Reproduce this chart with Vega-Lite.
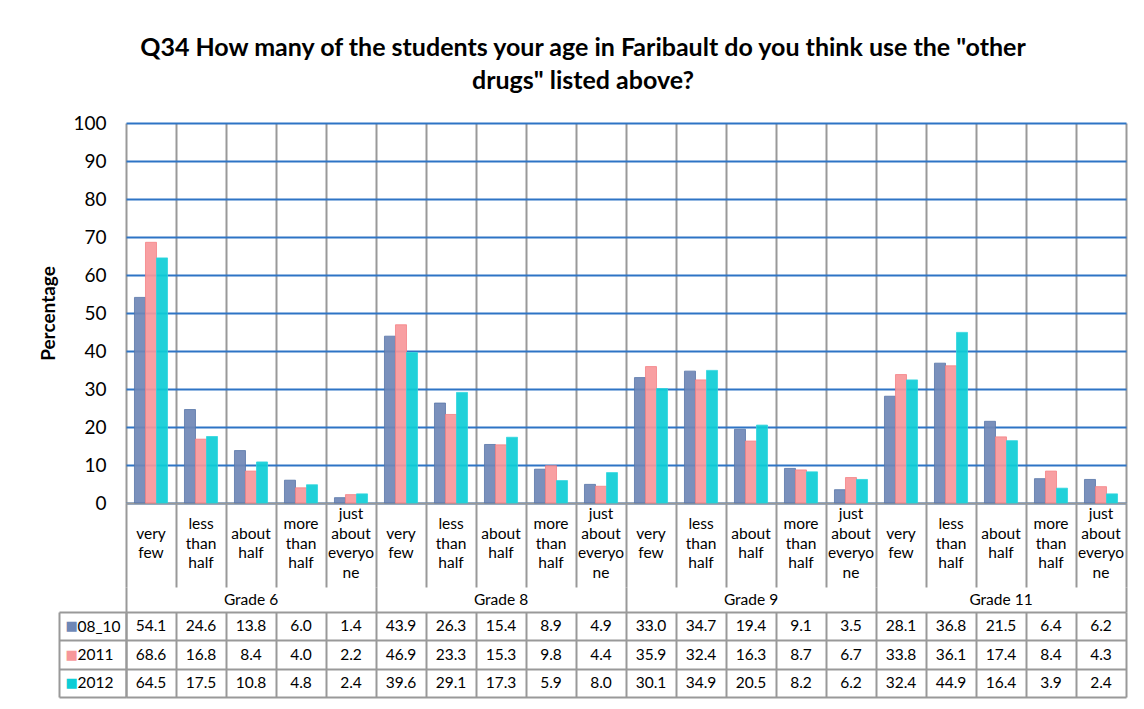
{
  "$schema": "https://vega.github.io/schema/vega-lite/v6.json",
  "padding": {"left": 39, "top": 36, "right": 12, "bottom": 10},
  "background": "white",
  "title": {
    "text": ["Q34 How many of the students your age in Faribault do you think use the \"other", "drugs\" listed above?"],
    "font": "Lato", "fontSize": 25, "fontWeight": "bold", "lineHeight": 33,
    "anchor": "middle", "frame": "bounds", "offset": 20, "color": "black"
  },
  "data": {"values": [
    {"grade": "Grade 6", "cat": "very few", "series": "08_10", "value": 54.1},
    {"grade": "Grade 6", "cat": "very few", "series": "2011", "value": 68.6},
    {"grade": "Grade 6", "cat": "very few", "series": "2012", "value": 64.5},
    {"grade": "Grade 6", "cat": "less than half", "series": "08_10", "value": 24.6},
    {"grade": "Grade 6", "cat": "less than half", "series": "2011", "value": 16.8},
    {"grade": "Grade 6", "cat": "less than half", "series": "2012", "value": 17.5},
    {"grade": "Grade 6", "cat": "about half", "series": "08_10", "value": 13.8},
    {"grade": "Grade 6", "cat": "about half", "series": "2011", "value": 8.4},
    {"grade": "Grade 6", "cat": "about half", "series": "2012", "value": 10.8},
    {"grade": "Grade 6", "cat": "more than half", "series": "08_10", "value": 6.0},
    {"grade": "Grade 6", "cat": "more than half", "series": "2011", "value": 4.0},
    {"grade": "Grade 6", "cat": "more than half", "series": "2012", "value": 4.8},
    {"grade": "Grade 6", "cat": "just about everyone", "series": "08_10", "value": 1.4},
    {"grade": "Grade 6", "cat": "just about everyone", "series": "2011", "value": 2.2},
    {"grade": "Grade 6", "cat": "just about everyone", "series": "2012", "value": 2.4},
    {"grade": "Grade 8", "cat": "very few", "series": "08_10", "value": 43.9},
    {"grade": "Grade 8", "cat": "very few", "series": "2011", "value": 46.9},
    {"grade": "Grade 8", "cat": "very few", "series": "2012", "value": 39.6},
    {"grade": "Grade 8", "cat": "less than half", "series": "08_10", "value": 26.3},
    {"grade": "Grade 8", "cat": "less than half", "series": "2011", "value": 23.3},
    {"grade": "Grade 8", "cat": "less than half", "series": "2012", "value": 29.1},
    {"grade": "Grade 8", "cat": "about half", "series": "08_10", "value": 15.4},
    {"grade": "Grade 8", "cat": "about half", "series": "2011", "value": 15.3},
    {"grade": "Grade 8", "cat": "about half", "series": "2012", "value": 17.3},
    {"grade": "Grade 8", "cat": "more than half", "series": "08_10", "value": 8.9},
    {"grade": "Grade 8", "cat": "more than half", "series": "2011", "value": 9.8},
    {"grade": "Grade 8", "cat": "more than half", "series": "2012", "value": 5.9},
    {"grade": "Grade 8", "cat": "just about everyone", "series": "08_10", "value": 4.9},
    {"grade": "Grade 8", "cat": "just about everyone", "series": "2011", "value": 4.4},
    {"grade": "Grade 8", "cat": "just about everyone", "series": "2012", "value": 8.0},
    {"grade": "Grade 9", "cat": "very few", "series": "08_10", "value": 33.0},
    {"grade": "Grade 9", "cat": "very few", "series": "2011", "value": 35.9},
    {"grade": "Grade 9", "cat": "very few", "series": "2012", "value": 30.1},
    {"grade": "Grade 9", "cat": "less than half", "series": "08_10", "value": 34.7},
    {"grade": "Grade 9", "cat": "less than half", "series": "2011", "value": 32.4},
    {"grade": "Grade 9", "cat": "less than half", "series": "2012", "value": 34.9},
    {"grade": "Grade 9", "cat": "about half", "series": "08_10", "value": 19.4},
    {"grade": "Grade 9", "cat": "about half", "series": "2011", "value": 16.3},
    {"grade": "Grade 9", "cat": "about half", "series": "2012", "value": 20.5},
    {"grade": "Grade 9", "cat": "more than half", "series": "08_10", "value": 9.1},
    {"grade": "Grade 9", "cat": "more than half", "series": "2011", "value": 8.7},
    {"grade": "Grade 9", "cat": "more than half", "series": "2012", "value": 8.2},
    {"grade": "Grade 9", "cat": "just about everyone", "series": "08_10", "value": 3.5},
    {"grade": "Grade 9", "cat": "just about everyone", "series": "2011", "value": 6.7},
    {"grade": "Grade 9", "cat": "just about everyone", "series": "2012", "value": 6.2},
    {"grade": "Grade 11", "cat": "very few", "series": "08_10", "value": 28.1},
    {"grade": "Grade 11", "cat": "very few", "series": "2011", "value": 33.8},
    {"grade": "Grade 11", "cat": "very few", "series": "2012", "value": 32.4},
    {"grade": "Grade 11", "cat": "less than half", "series": "08_10", "value": 36.8},
    {"grade": "Grade 11", "cat": "less than half", "series": "2011", "value": 36.1},
    {"grade": "Grade 11", "cat": "less than half", "series": "2012", "value": 44.9},
    {"grade": "Grade 11", "cat": "about half", "series": "08_10", "value": 21.5},
    {"grade": "Grade 11", "cat": "about half", "series": "2011", "value": 17.4},
    {"grade": "Grade 11", "cat": "about half", "series": "2012", "value": 16.4},
    {"grade": "Grade 11", "cat": "more than half", "series": "08_10", "value": 6.4},
    {"grade": "Grade 11", "cat": "more than half", "series": "2011", "value": 8.4},
    {"grade": "Grade 11", "cat": "more than half", "series": "2012", "value": 3.9},
    {"grade": "Grade 11", "cat": "just about everyone", "series": "08_10", "value": 6.2},
    {"grade": "Grade 11", "cat": "just about everyone", "series": "2011", "value": 4.3},
    {"grade": "Grade 11", "cat": "just about everyone", "series": "2012", "value": 2.4}
  ]},
  "transform": [{"calculate": "datum.grade + '|' + datum.cat", "as": "key"}],
  "bounds": "flush",
  "spacing": 0,
  "resolve": {"scale": {"x": "independent", "y": "independent", "color": "shared"}},
  "vconcat": [
    {
      "width": 1000, "height": 380,
      "mark": {"type": "bar", "strokeWidth": 0.8},
      "encoding": {
        "x": {"field": "key", "type": "nominal", "sort": null,
              "scale": {"type": "band", "paddingInner": 0, "paddingOuter": 0},
              "axis": {"title": null, "labels": false, "ticks": false, "domain": true, "domainColor": "#999999", "domainWidth": 2,
                       "grid": true, "gridColor": "#999999", "gridWidth": 2, "tickBand": "extent", "zindex": 0}},
        "xOffset": {"field": "series", "type": "nominal", "scale": {"paddingInner": 0, "paddingOuter": 0.77}},
        "y": {"field": "value", "type": "quantitative",
              "scale": {"domain": [0, 100], "nice": false},
              "axis": {"title": "Percentage", "titleFontSize": 19, "titleFontWeight": "bold", "titlePadding": 14, "titleColor": "black",
                       "values": [0, 10, 20, 30, 40, 50, 60, 70, 80, 90, 100],
                       "labelFontSize": 19, "labelColor": "black", "labelPadding": 20, "ticks": false, "domain": false,
                       "grid": true, "gridColor": "#2e74c5", "gridWidth": 2}},
        "color": {"field": "series", "type": "nominal", "legend": null,
                  "scale": {"domain": ["08_10", "2011", "2012"], "range": ["#6f87b6", "#f7979a", "#0ecdd6"]}},
        "stroke": {"field": "series", "type": "nominal", "legend": null,
                   "scale": {"domain": ["08_10", "2011", "2012"], "range": ["#5876a8", "#f58185", "#2fd6de"]}},
        "fillOpacity": {"field": "series", "type": "nominal", "legend": null,
                        "scale": {"domain": ["08_10", "2011", "2012"], "range": [0.92, 0.92, 1]}}
      }
    },
    {
      "width": 1000, "height": 84,
      "transform": [
        {"filter": "datum.series === '08_10'"},
        {"calculate": "length(split(datum.cat, regexp(' |(?<=everyo)')))", "as": "nlines"}
      ],
      "mark": {"type": "text", "fontSize": 15.5, "lineHeight": 19.5, "baseline": "middle", "color": "black",
               "lineBreak": {"expr": "regexp(' |(?<=everyo)')"}},
      "encoding": {
        "x": {"field": "key", "type": "nominal", "sort": null,
              "scale": {"type": "band", "paddingInner": 0, "paddingOuter": 0},
              "axis": {"title": null, "labels": false, "ticks": false, "domain": false,
                       "grid": true, "gridColor": "#999999", "gridWidth": 2, "tickBand": "extent"}},
        "y": {"field": "nlines", "type": "quantitative", "scale": {"domain": [-3.436, 5.179], "nice": false, "zero": false}, "axis": null},
        "text": {"field": "cat"}
      }
    },
    {
      "width": 1000, "height": 25,
      "transform": [{"filter": "datum.series === '08_10' && datum.cat === 'very few'"}],
      "mark": {"type": "text", "fontSize": 15.5, "baseline": "middle", "color": "black"},
      "encoding": {
        "x": {"field": "grade", "type": "nominal", "sort": null,
              "scale": {"type": "band", "paddingInner": 0, "paddingOuter": 0},
              "axis": {"title": null, "labels": false, "ticks": false, "domain": false,
                       "grid": true, "gridColor": "#999999", "gridWidth": 2, "tickBand": "extent"}},
        "text": {"field": "grade"}
      }
    },
    {
      "width": 1000, "height": 85,
      "resolve": {"axis": {"y": "independent"}},
      "layer": [
        {
          "mark": {"type": "text", "fontSize": 15.5, "baseline": "middle", "color": "black"},
          "encoding": {
            "x": {"field": "key", "type": "nominal", "sort": null,
                  "scale": {"type": "band", "paddingInner": 0, "paddingOuter": 0},
                  "axis": {"title": null, "labels": false, "ticks": false, "domain": false,
                           "grid": true, "gridColor": "#999999", "gridWidth": 2, "tickBand": "extent"}},
            "y": {"field": "series", "type": "nominal",
                  "scale": {"type": "band", "paddingInner": 0, "paddingOuter": 0},
                  "axis": {"title": null, "orient": "left", "labelFontSize": 15.5, "labelColor": "black", "labelAlign": "left",
                           "labelPadding": -18, "ticks": true, "tickSize": 67, "tickColor": "#999999", "tickWidth": 2,
                           "tickBand": "extent", "domain": true, "domainColor": "#999999", "domainWidth": 2,
                           "grid": true, "gridColor": "#999999", "gridWidth": 2}},
            "text": {"field": "value", "type": "quantitative", "format": ".1f"}
          }
        },
        {
          "mark": {"type": "rule", "opacity": 0},
          "encoding": {
            "y": {"field": "series", "type": "nominal",
                  "axis": {"title": null, "orient": "left", "offset": 67, "labelExpr": "'■'", "labelFont": "DejaVu Sans",
                           "labelFontSize": 13, "labelAlign": "left", "labelPadding": -6, "ticks": false, "grid": false,
                           "domain": true, "domainColor": "#999999", "domainWidth": 2,
                           "labelColor": {"condition": [{"test": "datum.value === '08_10'", "value": "#6f87b6"}, {"test": "datum.value === '2011'", "value": "#f7979a"}], "value": "#0ecdd6"}}}
          }
        }
      ]
    }
  ],
  "config": {
    "font": "Lato",
    "view": {"stroke": null}
  }
}
